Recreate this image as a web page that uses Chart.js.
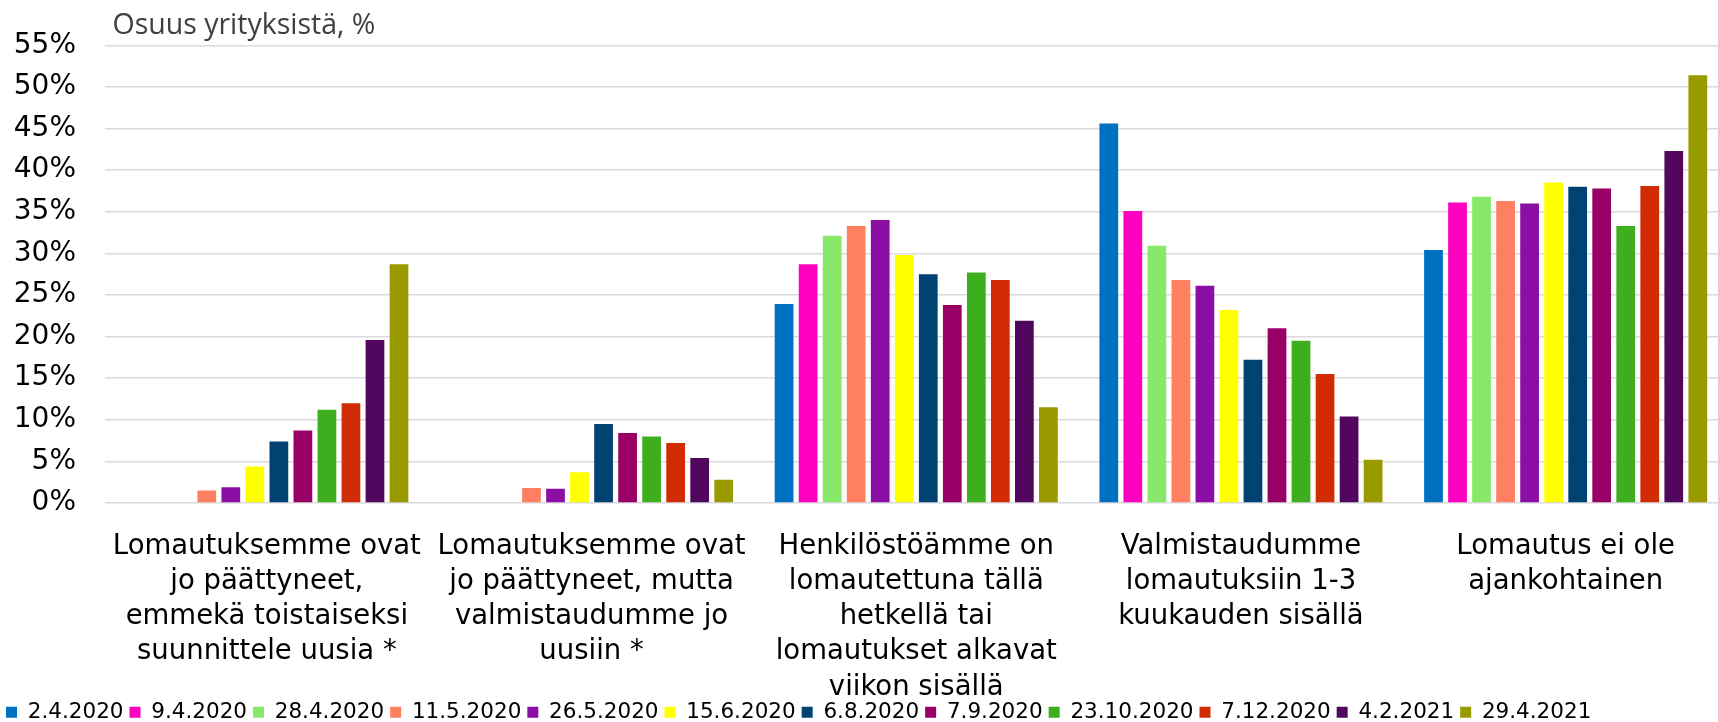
<!DOCTYPE html>
<html lang="fi">
<head>
<meta charset="utf-8">
<title>Lomautukset</title>
<script src="https://cdn.jsdelivr.net/npm/chart.js@4.4.0/dist/chart.umd.min.js"></script>
<style>
  html, body { margin: 0; padding: 0; background: #fff; overflow: hidden; }
  #wrap { width: 1728px; height: 722px; position: relative; }
</style>
</head>
<body>
<div id="wrap"><canvas id="chart"></canvas></div>
<script>
const AXIS_TITLE = 'Osuus yrityksistä, %';

const categories = [
  ['Lomautuksemme ovat', 'jo päättyneet,', 'emmekä toistaiseksi', 'suunnittele uusia *'],
  ['Lomautuksemme ovat', 'jo päättyneet, mutta', 'valmistaudumme jo', 'uusiin *'],
  ['Henkilöstöämme on', 'lomautettuna tällä', 'hetkellä tai', 'lomautukset alkavat', 'viikon sisällä'],
  ['Valmistaudumme', 'lomautuksiin 1-3', 'kuukauden sisällä'],
  ['Lomautus ei ole', 'ajankohtainen'],
];

const seriesNames = [
  '2.4.2020', '9.4.2020', '28.4.2020', '11.5.2020', '26.5.2020', '15.6.2020',
  '6.8.2020', '7.9.2020', '23.10.2020', '7.12.2020', '4.2.2021', '29.4.2021',
];

const seriesColors = [
  '#0070C0', '#FF00BF', '#88E86A', '#FF8060', '#8C0FA5', '#FFFF00',
  '#004373', '#990066', '#3DAE1E', '#D22C04', '#52075E', '#999900',
];

// values in %, one array per survey date (order = categories)
const d2_4_2020   = [null, null, 23.9, 45.6, 30.4];
const d9_4_2020   = [null, null, 28.7, 35.1, 36.1];
const d28_4_2020  = [null, null, 32.1, 30.9, 36.8];
const d11_5_2020  = [1.5, 1.8, 33.3, 26.8, 36.3];
const d26_5_2020  = [1.9, 1.7, 34.0, 26.1, 36.0];
const d15_6_2020  = [4.4, 3.7, 29.8, 23.2, 38.5];
const d6_8_2020   = [7.4, 9.5, 27.5, 17.2, 38.0];
const d7_9_2020   = [8.7, 8.4, 23.8, 21.0, 37.8];
const d23_10_2020 = [11.2, 8.0, 27.7, 19.5, 33.3];
const d7_12_2020  = [12.0, 7.2, 26.8, 15.5, 38.1];
const d4_2_2021   = [19.6, 5.4, 21.9, 10.4, 42.3];
const d29_4_2021  = [28.7, 2.8, 11.5, 5.2, 51.4];

const seriesValues = [
  d2_4_2020, d9_4_2020, d28_4_2020, d11_5_2020, d26_5_2020, d15_6_2020,
  d6_8_2020, d7_9_2020, d23_10_2020, d7_12_2020, d4_2_2021, d29_4_2021,
];

const yTicks = { min: 0, max: 55, step: 5 };

Chart.defaults.font.family = '"DejaVu Sans", Verdana, sans-serif';
Chart.defaults.color = '#000';

// axis caption above the plot, left aligned like in the original
const axisTitle = {
  id: 'axisTitle',
  afterDraw(chart) {
    const ctx = chart.ctx;
    ctx.save();
    ctx.font = '28.5px "Open Sans", sans-serif';
    ctx.fillStyle = '#404040';
    ctx.textBaseline = 'alphabetic';
    ctx.textAlign = 'left';
    ctx.fillText(AXIS_TITLE, chart.chartArea.left + 8, 33.5);
    ctx.restore();
  },
};

const datasets = seriesNames.map((name, i) => ({
  label: name,
  data: seriesValues[i],
  backgroundColor: seriesColors[i],
  borderWidth: 0,
  categoryPercentage: 0.888,
  barPercentage: 0.78,
}));

new Chart(document.getElementById('chart'), {
  type: 'bar',
  data: { labels: categories, datasets },
  options: {
    responsive: true,
    maintainAspectRatio: false,
    animation: false,
    layout: { padding: { top: 43.5, left: 0, right: 0, bottom: -11 } },
    plugins: {
      title: { display: false },
      tooltip: { enabled: false },
      legend: {
        position: 'bottom',
        align: 'start',
        labels: {
          font: { size: 21.5 },
          color: '#000',
          boxWidth: 11,
          boxHeight: 11,
          padding: 6,
        },
      },
    },
    scales: {
      x: {
        grid: { display: false },
        border: { display: false },
        ticks: {
          font: { size: 27.5, lineHeight: 1.28 },
          color: '#000',
          padding: 18,
          maxRotation: 0,
          autoSkip: false,
        },
        afterFit(scale) { scale.height = 192.5; },
      },
      y: {
        min: yTicks.min,
        max: yTicks.max,
        grid: { color: '#D9D9DE', lineWidth: 1.5, drawTicks: false },
        border: { display: false },
        ticks: {
          stepSize: yTicks.step,
          font: { size: 28 },
          color: '#000',
          padding: 28.5,
          callback: v => v + '%',
        },
        afterFit(scale) { scale.width = 104.5; },
      },
    },
  },
  plugins: [axisTitle],
});
</script>
</body>
</html>
